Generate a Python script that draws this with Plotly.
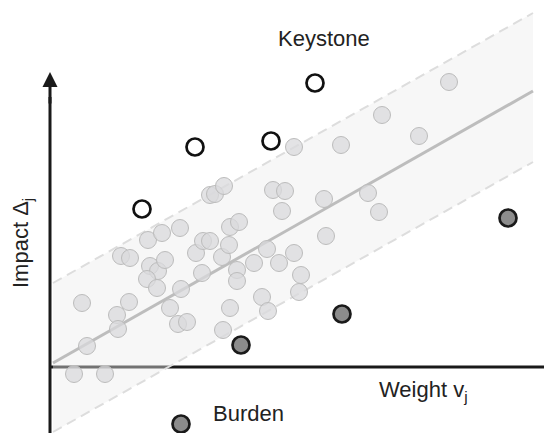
import plotly.graph_objects as go

# Data (units: axis origin at (0,0))
light_x = [24, 55, 37, 32, 67, 79, 68, 71, 80, 98, 112, 130, 100, 108, 97, 107, 115, 120, 131, 128, 137,
           146, 153, 160, 152, 172, 179, 180, 189, 187, 187, 180, 173, 204, 212, 217, 218, 229, 244, 251, 249,
           160, 165, 174, 223, 235, 232, 244, 276, 274, 291, 318, 329, 332, 369, 399]
light_y = [-7, -7, 21, 64, 52, 65, 38, 111, 109, 127, 134, 139, 101, 96, 88, 79, 107, 59, 78, 43, 45,
           114, 126, 126, 94, 110, 122, 140, 145, 97, 86, 59, 37, 104, 70, 118, 56, 104, 114, 92, 75,
           172, 173, 181, 177, 176, 156, 220, 131, 168, 222, 174, 155, 252, 231, 285]
key_x = [92, 145, 221, 265]
key_y = [158, 220, 226, 284]
burden_x = [131, 191, 292, 458]
burden_y = [-57, 22, 53, 149]

fit_x = [3, 483]
fit_y = [4, 276]
upper_y = [84, 354]
lower_y = [-65, 205]

labels = {"keystone": "Keystone", "burden": "Burden",
          "x": "Weight v<sub>j</sub>", "y": "Impact Δ<sub>j</sub>"}

FONT = "Liberation Sans, Arial, sans-serif"
fig = go.Figure()

# band
fig.add_trace(go.Scatter(
    x=fit_x + fit_x[::-1], y=upper_y + lower_y[::-1], fill="toself",
    fillcolor="rgba(235,235,235,0.42)", line=dict(width=0), mode="lines", hoverinfo="skip"))
for yy in (upper_y, lower_y):
    fig.add_trace(go.Scatter(x=fit_x, y=yy, mode="lines",
                             line=dict(color="#dddddd", width=2, dash="10px,6px"), hoverinfo="skip"))
fig.add_trace(go.Scatter(x=fit_x, y=fit_y, mode="lines",
                         line=dict(color="#bdbdbd", width=3), hoverinfo="skip"))
fig.add_trace(go.Scatter(x=light_x, y=light_y, mode="markers",
                         marker=dict(size=17, color="rgba(218,218,220,0.75)",
                                     line=dict(color="#bcbcbc", width=1))))
fig.add_trace(go.Scatter(x=key_x, y=key_y, mode="markers",
                         marker=dict(size=17, color="white", line=dict(color="#111", width=2.7))))
fig.add_trace(go.Scatter(x=burden_x, y=burden_y, mode="markers",
                         marker=dict(size=17, color="#8c8c8c", line=dict(color="#1a1a1a", width=2.7))))

# axes
fig.add_shape(type="line", x0=0, x1=501, y0=0, y1=0, layer="below",
              line=dict(color="#1a1a1a", width=3))
fig.add_shape(type="line", x0=501, x1=501, y0=-5, y1=5, layer="below",
              line=dict(color="#1a1a1a", width=2))
fig.add_shape(type="line", x0=0, x1=0, y0=-80, y1=270, layer="below",
              line=dict(color="#1a1a1a", width=3))
fig.add_annotation(x=0, y=295, ax=0, ay=262, xref="x", yref="y", axref="x", ayref="y",
                   text="", showarrow=True, arrowhead=2, arrowsize=1.0, arrowwidth=3, arrowcolor="#1a1a1a")

fig.add_annotation(x=274, y=329, text=labels["keystone"], showarrow=False,
                   font=dict(family=FONT, size=22, color="#222"))
fig.add_annotation(x=161, y=-46, text=labels["burden"], showarrow=False, xanchor="left",
                   font=dict(family=FONT, size=22, color="#222"))
fig.add_annotation(x=327, y=-24, text=labels["x"], showarrow=False, xanchor="left",
                   font=dict(family=FONT, size=22, color="#222"))
fig.add_annotation(x=-28, y=124, text=labels["y"], showarrow=False, textangle=-90,
                   font=dict(family=FONT, size=22, color="#222"))

fig.update_layout(
    width=552, height=433, margin=dict(l=0, r=0, t=0, b=0),
    paper_bgcolor="white", plot_bgcolor="white", showlegend=False,
    xaxis=dict(range=[-42, 510], visible=False, fixedrange=True),
    yaxis=dict(range=[-74, 359], visible=False, fixedrange=True),
)
fig.write_html("out.html")
